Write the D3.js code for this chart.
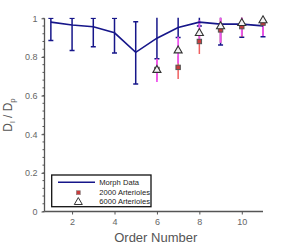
<!DOCTYPE html>
<html>
<head>
<meta charset="utf-8">
<script src="https://cdn.jsdelivr.net/npm/d3@7"></script>
<style>
  body { margin: 0; background: #fff; }
  svg { display: block; font-family: "Liberation Sans", Arial, sans-serif; }
</style>
</head>
<body>
<script>
// order numbers
var orders = [1, 2, 3, 4, 5, 6, 7, 8, 9, 10, 11];
// morphometric data (line + blue error bars)
var morphMean = [0.98, 0.965, 0.956, 0.925, 0.824, 0.897, 0.952, 0.98, 0.97, 0.97, 0.961];
var morphLo   = [0.885, 0.833, 0.853, 0.82, 0.66, 0.79, 0.90, 0.96, 0.862, 0.902, 0.905];
var morphHi   = [1.0, 1.0, 1.0, 1.0, 0.982, 1.05, 1.1, 1.1, 1.08, 1.04, 1.02];
// 2000 arterioles (squares, red bars)
var simOrders = [6, 7, 8, 9, 10, 11];
var s2000Mean = [0.735, 0.746, 0.88, 0.94, 0.957, 0.975];
var s2000Lo   = [0.68, 0.686, 0.815, 0.875, 0.905, 0.92];
var s2000Hi   = [0.79, 0.806, 0.945, 1.0, 1.01, 1.03];
// 6000 arterioles (triangles, magenta bars)
var s6000Mean = [0.735, 0.836, 0.926, 0.961, 0.978, 0.992];
var s6000Lo   = [0.67, 0.766, 0.88, 0.873, 0.91, 0.909];
var s6000Hi   = [0.79, 0.905, 0.99, 1.05, 1.05, 1.07];

var xTicks = [2, 4, 6, 8, 10];
var yTicks = [0, 0.2, 0.4, 0.6, 0.8, 1];

var w = 291, h = 247;
var x0 = 44.5, x1 = 263, yTop = 18.3, yBot = 211.5;

var svg = d3.select('body').append('svg')
  .attr('width', w)
  .attr('height', h);

var xScale = d3.scaleLinear().domain([0.7, 11]).range([x0, x1]);
var yScale = d3.scaleLinear().domain([0, 1]).range([yBot, yTop]);

svg.append('defs').append('clipPath').attr('id', 'plot')
  .append('rect')
  .attr('x', x0).attr('y', yTop - 0.5)
  .attr('width', x1 - x0 + 10).attr('height', yBot - yTop + 1);

var g = svg.append('g').attr('clip-path', 'url(#plot)');

function errBars(xs, lo, hi, color, cap, width) {
  var grp = g.append('g');
  xs.forEach(function (o, i) {
    var x = xScale(o);
    grp.append('line')
      .attr('x1', x).attr('x2', x)
      .attr('y1', yScale(lo[i])).attr('y2', yScale(hi[i]))
      .attr('stroke', color).attr('stroke-width', width);
    [lo[i], hi[i]].forEach(function (v) {
      if (cap > 0 && v <= 1.0001) {
        grp.append('line')
          .attr('x1', x - cap).attr('x2', x + cap)
          .attr('y1', yScale(v)).attr('y2', yScale(v))
          .attr('stroke', color).attr('stroke-width', width);
      }
    });
  });
}

var navy = '#16168a';

// error bars
errBars(orders, morphLo, morphHi, navy, 2.5, 1.5);
errBars(simOrders, s2000Lo, s2000Hi, '#f06060', 0, 1.5);
errBars(simOrders, s6000Lo, s6000Hi, '#ee55ee', 0, 1.8);

// morph line
var line = d3.line()
  .x(function (d, i) { return xScale(orders[i]); })
  .y(function (d) { return yScale(d); });

svg.append('path')
  .datum(morphMean)
  .attr('d', line)
  .attr('fill', 'none')
  .attr('stroke', navy)
  .attr('stroke-width', 1.6);

// squares
svg.append('g').selectAll('rect')
  .data(s2000Mean)
  .enter()
  .append('rect')
    .attr('x', function (d, i) { return xScale(simOrders[i]) - 2.2; })
    .attr('y', function (d) { return yScale(d) - 2.2; })
    .attr('width', 4.4).attr('height', 4.4)
    .attr('fill', '#c83c3c')
    .attr('stroke', '#555')
    .attr('stroke-width', 1);

// triangles
var tri = d3.symbol().type(d3.symbolTriangle).size(28);
svg.append('g').selectAll('path')
  .data(s6000Mean)
  .enter()
  .append('path')
    .attr('d', tri)
    .attr('transform', function (d, i) { return 'translate(' + xScale(simOrders[i]) + ',' + (yScale(d) + 0.6) + ')'; })
    .attr('fill', '#f4f4f4')
    .attr('stroke', '#333')
    .attr('stroke-width', 1.1);

// AXES
var yAxis = d3.axisLeft(yScale)
  .tickValues(yTicks)
  .tickSize(3)
  .tickPadding(4)
  .tickFormat(function (d) { return d === 0 || d === 1 ? d : d3.format('.1f')(d); });

var yg = svg.append('g')
  .attr('transform', 'translate(' + x0 + ',0)')
  .call(yAxis);

// minor ticks
yg.selectAll('.minor')
  .data(d3.range(0, 1.001, 0.04))
  .enter()
  .append('line')
    .attr('x1', -2).attr('x2', 0)
    .attr('y1', function (d) { return yScale(d); })
    .attr('y2', function (d) { return yScale(d); })
    .attr('stroke', '#555');

var xAxis = d3.axisBottom(xScale)
  .tickValues(xTicks)
  .tickSize(3)
  .tickPadding(4);

var xg = svg.append('g')
  .attr('transform', 'translate(0,' + yBot + ')')
  .call(xAxis);

[yg, xg].forEach(function (ax) {
  ax.select('.domain').attr('stroke', '#555').attr('stroke-width', 1.3);
  ax.selectAll('.tick line').attr('stroke', '#555');
  ax.selectAll('.tick text').attr('fill', '#666').style('font-size', '9px')
    .style('font-family', '"Liberation Sans", Arial, sans-serif');
});
xg.select('.domain').attr('d', 'M' + x0 + ',0H' + x1);
yg.select('.domain').attr('d', 'M0,' + yTop + 'V' + yBot);

// labels
svg.append('text')
  .attr('x', (x0 + x1) / 2 + 2)
  .attr('y', 242)
  .attr('text-anchor', 'middle')
  .attr('fill', '#555')
  .style('font-size', '13px')
  .text('Order Number');

var yl = svg.append('text')
  .attr('text-anchor', 'middle')
  .attr('fill', '#555')
  .style('font-size', '12px')
  .attr('transform', 'translate(12,115)rotate(-90)');
yl.append('tspan').text('D');
yl.append('tspan').attr('dy', 3).style('font-size', '8px').text('l');
yl.append('tspan').attr('dy', -3).text(' / D');
yl.append('tspan').attr('dy', 3).style('font-size', '8px').text('p');

// LEGEND
var lg = svg.append('g');
lg.append('rect')
  .attr('x', 51.7).attr('y', 175)
  .attr('width', 99.3).attr('height', 31.7)
  .attr('fill', '#fff')
  .attr('stroke', '#111')
  .attr('stroke-width', 1.3);

lg.append('line')
  .attr('x1', 58).attr('x2', 95)
  .attr('y1', 182.3).attr('y2', 182.3)
  .attr('stroke', navy).attr('stroke-width', 1.5);
lg.append('rect')
  .attr('x', 76.3).attr('y', 190.7)
  .attr('width', 4).attr('height', 4)
  .attr('fill', '#c83c3c').attr('stroke', '#888').attr('stroke-width', 0.6);
lg.append('path')
  .attr('d', tri)
  .attr('transform', 'translate(78.3,202.2)')
  .attr('fill', '#fff').attr('stroke', '#333').attr('stroke-width', 1);

var legLabels = ['Morph Data', '2000 Arterioles', '6000 Arterioles'];
lg.selectAll('text.leg')
  .data(legLabels)
  .enter()
  .append('text')
    .attr('x', 99.3)
    .attr('y', function (d, i) { return 184.9 + i * 9.6; })
    .attr('fill', '#222')
    .style('font-size', '7.6px')
    .text(function (d) { return d; });
</script>
</body>
</html>
